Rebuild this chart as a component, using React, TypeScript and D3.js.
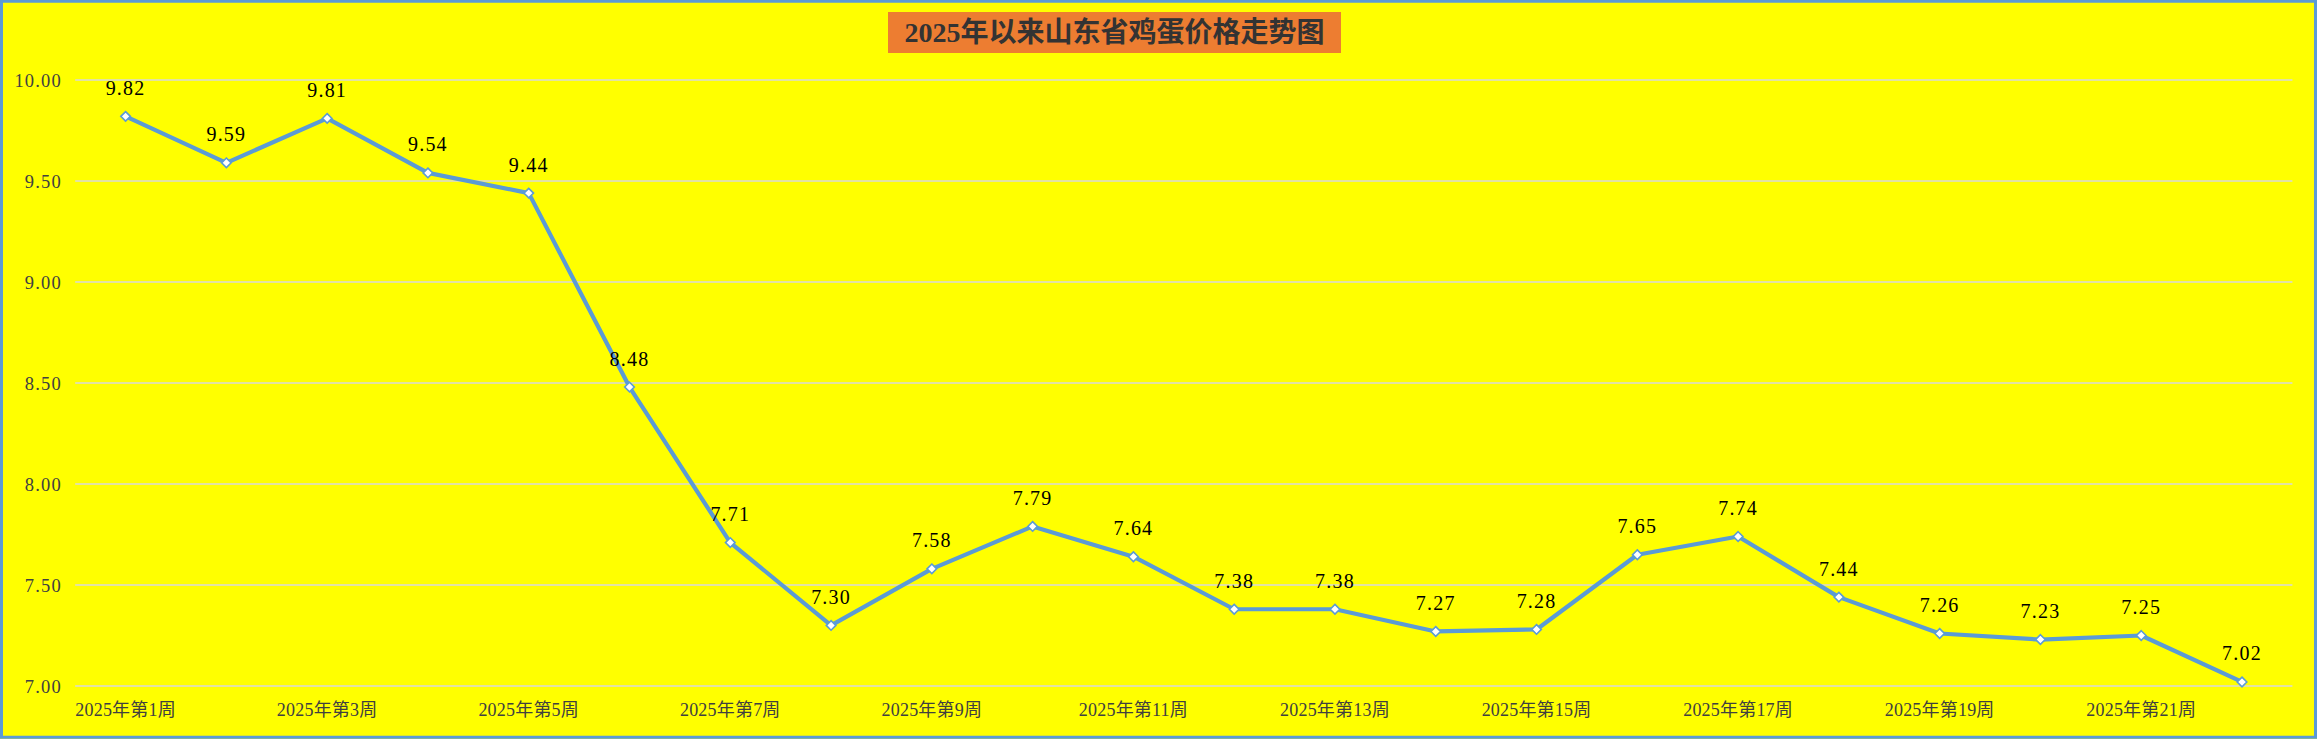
import React from "react";
import * as d3 from "d3";

const weeks: string[] = Array.from({ length: 22 }, (_, i) => `2025年第${i + 1}周`);
const prices: number[] = [
  9.82, 9.59, 9.81, 9.54, 9.44, 8.48, 7.71, 7.3, 7.58, 7.79, 7.64, 7.38, 7.38, 7.27,
  7.28, 7.65, 7.74, 7.44, 7.26, 7.23, 7.25, 7.02,
];
const yTicks: number[] = [7.0, 7.5, 8.0, 8.5, 9.0, 9.5, 10.0];
const title = "2025年以来山东省鸡蛋价格走势图";

const W = 2317;
const H = 739;
const plot = { left: 75.2, right: 2292.4, top: 80, bottom: 686 };

const serif = "'Liberation Serif', 'Noto Sans CJK SC', serif";

export default function App() {
  const x = d3
    .scaleBand<string>()
    .domain(weeks)
    .range([plot.left, plot.right])
    .paddingInner(0)
    .paddingOuter(0);
  const y = d3.scaleLinear().domain([7, 10]).range([plot.bottom, plot.top]);
  const cx = (w: string) => (x(w) as number) + x.bandwidth() / 2;

  const line = d3
    .line<number>()
    .x((_, i) => cx(weeks[i]))
    .y((d) => y(d));

  const diamond = (px: number, py: number, r: number) =>
    `M${px},${py - r}L${px + r},${py}L${px},${py + r}L${px - r},${py}Z`;

  return (
    <svg
      width={W}
      height={H}
      style={{ position: "absolute", left: 0, top: 0, display: "block" }}
    >
      <rect x={0} y={0} width={W} height={H} fill="#FFFF00" />
      <rect
        x={1.5}
        y={1.25}
        width={W - 3}
        height={H - 3}
        fill="none"
        stroke="#5B9BD5"
        strokeWidth={3}
      />
      {/* title */}
      <rect x={888} y={12} width={453} height={41} fill="#ED7D31" />
      <text
        x={1114.5}
        y={42}
        textAnchor="middle"
        fontFamily={serif}
        fontSize={28}
        fontWeight="bold"
        fill="#333333"
      >
        {title}
      </text>
      {/* gridlines */}
      {yTicks.map((t) => (
        <line
          key={t}
          x1={plot.left}
          x2={plot.right}
          y1={y(t)}
          y2={y(t)}
          stroke="#D9D9D9"
          strokeWidth={1.6}
        />
      ))}
      {/* y labels */}
      {yTicks.map((t) => (
        <text
          key={"l" + t}
          x={62}
          y={y(t) + 6.5}
          textAnchor="end"
          fontFamily={serif}
          fontSize={18.5}
          fill="#404040"
          letterSpacing={1.2}
        >
          {t.toFixed(2)}
        </text>
      ))}
      {/* x labels */}
      {weeks.map((w, i) =>
        i % 2 === 0 ? (
          <text
            key={w}
            x={cx(w)}
            y={716}
            textAnchor="middle"
            fontFamily={serif}
            fontSize={18}
            fill="#404040"
            letterSpacing={0.2}
          >
            {w}
          </text>
        ) : null
      )}
      {/* line */}
      <path
        d={line(prices) || ""}
        fill="none"
        stroke="#5B9BD5"
        strokeWidth={4.2}
        strokeLinejoin="round"
      />
      {prices.map((p, i) => (
        <path
          key={"m" + i}
          d={diamond(cx(weeks[i]), y(p), 4.8)}
          fill="#FFFFFF"
          stroke="#5B9BD5"
          strokeWidth={1.6}
        />
      ))}
      {prices.map((p, i) => (
        <text
          key={"d" + i}
          x={cx(weeks[i])}
          y={y(p) - 21.5}
          textAnchor="middle"
          fontFamily={serif}
          fontSize={20}
          fill="#000000"
          letterSpacing={1.2}
        >
          {p.toFixed(2)}
        </text>
      ))}
    </svg>
  );
}
